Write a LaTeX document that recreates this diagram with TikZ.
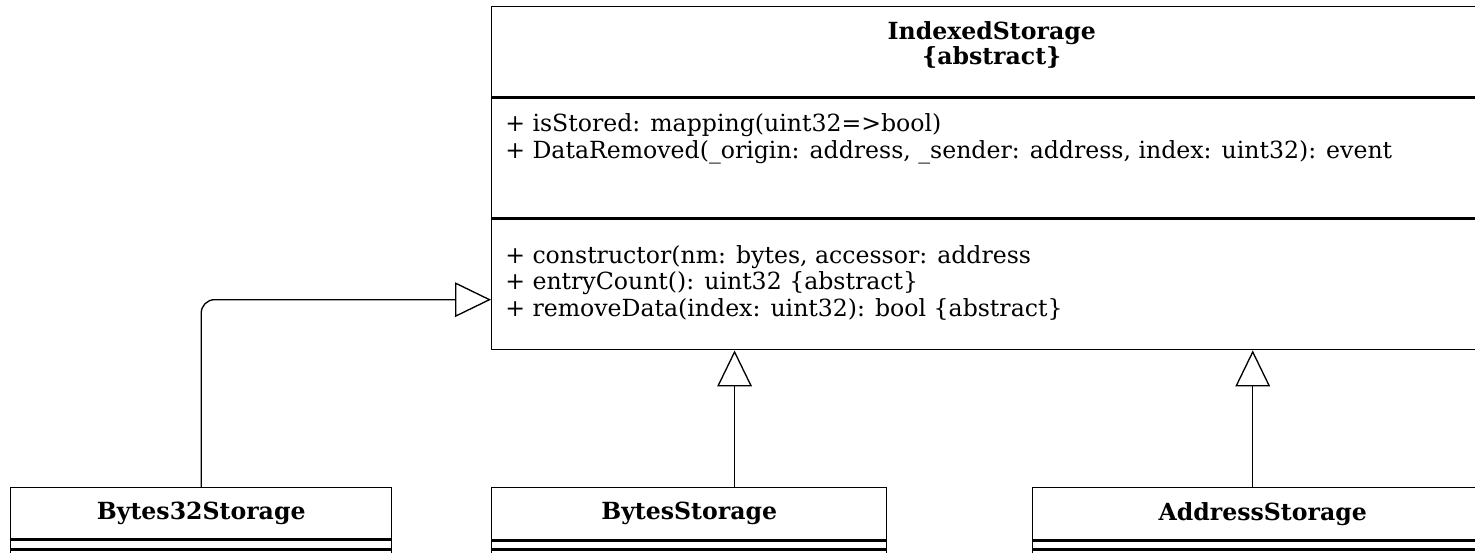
\documentclass[tikz,border=0pt]{standalone}
\usepackage{fontspec}
\setmainfont{DejaVu Serif}
\usepackage{tikz}
\usetikzlibrary{positioning,arrows.meta}
\tikzset{
  clsbox/.style={draw=black, line width=1.1pt, fill=white, inner sep=0pt,
                 anchor=north west},
  clsname/.style={font=\fontsize{17.7}{17}\selectfont\bfseries, align=center,
                  inner sep=0pt},
  member/.style={align=left, anchor=north west, inner sep=0pt},
  inherit/.style={-{Triangle[open, length=27pt, width=26pt]}, line width=1pt},
}

\begin{document}
\begin{tikzpicture}[x=0.75pt, y=-0.75pt, font=\fontsize{17.7}{19.9}\selectfont]
\useasboundingbox (0,0) rectangle (1475,553);
\clip (0,0) rectangle (1475,553);
\node[clsbox, minimum width=750pt, minimum height=67.5pt] (idxHead) at (491,6) {};
\node[clsbox, minimum width=750pt, minimum height=90pt, below=0pt of idxHead] (idxAttr) {};
\node[clsbox, minimum width=750pt, minimum height=97.5pt, below=0pt of idxAttr] (idxOps) {};
\node[clsname, anchor=north] (idxName) at ([yshift=-11.5pt]idxHead.north) {IndexedStorage\\\{abstract\}};
\node[member] (idxAttrTxt) at ([xshift=10.5pt, yshift=-12pt]idxAttr.north west)
  {+ isStored: mapping(uint32=>bool)\\
   + DataRemoved(\_origin: address, \_sender: address, index: uint32): event};
\node[member] (idxOpsTxt) at ([xshift=10.5pt, yshift=-19.5pt]idxOps.north west)
  {+ constructor(nm: bytes, accessor: address\\
   + entryCount(): uint32 \{abstract\}\\
   + removeData(index: uint32): bool \{abstract\}};

\node[clsbox, minimum width=285.75pt, minimum height=38.25pt] (b32Head) at (10,487) {\bfseries Bytes32Storage};
\node[clsbox, minimum width=285.75pt, minimum height=6.75pt, below=0pt of b32Head] (b32Attr) {};
\node[clsbox, minimum width=285.75pt, minimum height=30pt, below=0pt of b32Attr] (b32Ops) {};

\node[clsbox, minimum width=296.25pt, minimum height=39pt] (bytesHead) at (491,487) {\bfseries BytesStorage};
\node[clsbox, minimum width=296.25pt, minimum height=6pt, below=0pt of bytesHead] (bytesAttr) {};
\node[clsbox, minimum width=296.25pt, minimum height=30pt, below=0pt of bytesAttr] (bytesOps) {};

\node[clsbox, minimum width=345pt, minimum height=39pt] (addrHead) at (1032,487) {\bfseries AddressStorage};
\node[clsbox, minimum width=345pt, minimum height=6pt, below=0pt of addrHead] (addrAttr) {};
\node[clsbox, minimum width=345pt, minimum height=30pt, below=0pt of addrAttr] (addrOps) {};

\draw[inherit, rounded corners=10pt] (b32Head.north) |- ([yshift=-11.25pt]idxOps.west);
\draw[inherit] ([xshift=34pt]bytesHead.north) -- ([xshift=34pt]bytesHead.north |- idxOps.south);
\draw[inherit] ([xshift=-7.5pt]addrHead.north) -- ([xshift=-7.5pt]addrHead.north |- idxOps.south);
\end{tikzpicture}
\end{document}
